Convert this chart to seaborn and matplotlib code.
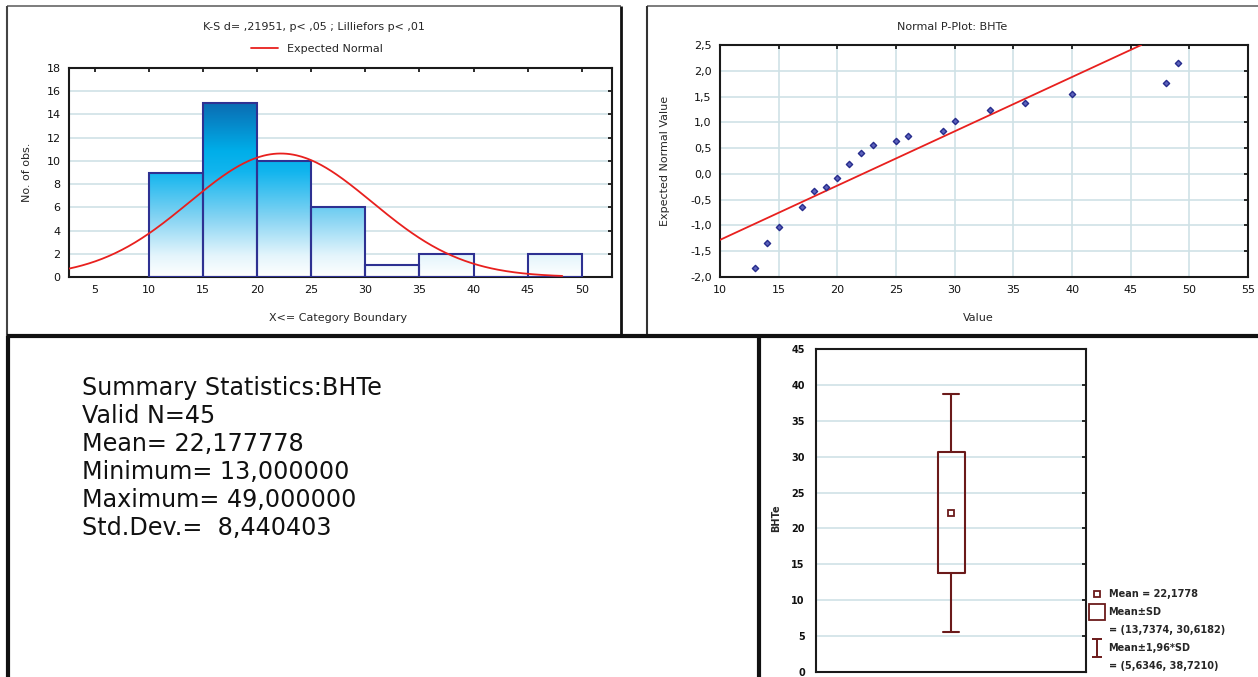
import numpy as np
import matplotlib
matplotlib.use("Agg")
import matplotlib.pyplot as plt
import seaborn as sns
from matplotlib.colors import LinearSegmentedColormap
from matplotlib.lines import Line2D
from matplotlib.path import Path
from matplotlib.ticker import FuncFormatter

# ---------------- data ----------------
bin_edges = [10, 15, 20, 25, 30, 35, 40, 45, 50]
bin_counts = [9, 15, 10, 6, 1, 2, 0, 2]
n_valid = 45
mean_val = 22.177778
min_val = 13.0
max_val = 49.0
std_val = 8.440403
hist_title = "K-S d= ,21951, p< ,05 ; Lilliefors p< ,01"
hist_xticks = [5, 10, 15, 20, 25, 30, 35, 40, 45, 50]
hist_yticks = [0, 2, 4, 6, 8, 10, 12, 14, 16, 18]
curve_range = [2.6, 48.2]

pp_title = "Normal P-Plot: BHTe"
pp_values = [13, 14, 15, 17, 18, 19, 20, 21, 22, 23, 25, 26, 29, 30, 33, 36, 40, 48, 49]
pp_expected = [-1.82, -1.35, -1.03, -0.64, -0.33, -0.26, -0.08, 0.19, 0.40, 0.57,
               0.64, 0.73, 0.84, 1.03, 1.23, 1.38, 1.54, 1.76, 2.15]
pp_line_x = [10, 45.9]
pp_line_y = [-1.28, 2.5]
pp_xticks = [10, 15, 20, 25, 30, 35, 40, 45, 50, 55]
pp_yticks = [-2.0, -1.5, -1.0, -0.5, 0.0, 0.5, 1.0, 1.5, 2.0, 2.5]

box_yticks = [0, 5, 10, 15, 20, 25, 30, 35, 40, 45]
variable = "BHTe"

# ---------------- helpers ----------------
W, H = 1258, 677


def fx(px):
    return px / W


def fy(py):
    return 1 - py / H


def comma(v, nd):
    return f"{v:.{nd}f}".replace(".", ",")


sns.set_theme(style="white")
plt.rcParams["font.family"] = ["DejaVu Sans"]
plt.rcParams["axes.edgecolor"] = "#1a1a1a"
plt.rcParams["axes.linewidth"] = 1.5

fig = plt.figure(figsize=(W / 100, H / 100), dpi=100)
fig.patch.set_facecolor("white")

grid_c = "#cfe2e6"
tick_fs = 8

# ---------------- histogram ----------------
ax1 = fig.add_axes([fx(69), fy(277), fx(612) - fx(69), fy(68) - fy(277)])
mids = [(bin_edges[i] + bin_edges[i + 1]) / 2 for i in range(len(bin_counts))]
sns.histplot(x=mids, weights=bin_counts, bins=bin_edges, ax=ax1, stat="count",
             element="bars", fill=True, edgecolor="#2e3192", linewidth=1.5,
             facecolor="none", alpha=1)
cmap = LinearSegmentedColormap.from_list(
    "grad",
    [(0.0, "#ffffff"), (0.1, "#e4f5fc"), (0.28, "#86d4f3"), (0.5, "#12b5ee"),
     (0.6, "#00aee9"), (0.83, "#0a6cb2"), (1.0, "#0a5a9c")])
grad = np.linspace(0, 18, 256).reshape(-1, 1)
for p in list(ax1.patches):
    p.set_facecolor("none")
    p.set_zorder(3)
    x0 = p.get_x()
    w = p.get_width()
    im = ax1.imshow(grad, extent=(x0, x0 + w, 0, 18), origin="lower", aspect="auto",
                    cmap=cmap, vmin=0, vmax=18, zorder=2)
    im.set_clip_path(p)

cx = np.linspace(curve_range[0], curve_range[1], 300)
bw = bin_edges[1] - bin_edges[0]
cy = n_valid * bw * np.exp(-0.5 * ((cx - mean_val) / std_val) ** 2) / (std_val * np.sqrt(2 * np.pi))
ax1.plot(cx, cy, color="#e8201e", lw=1.3, zorder=4)

ax1.set_xlim(2.6, 52.8)
ax1.set_ylim(0, 18)
ax1.set_xticks(hist_xticks)
ax1.set_yticks(hist_yticks)
ax1.yaxis.grid(True, color=grid_c, lw=1.2)
ax1.xaxis.grid(False)
ax1.set_axisbelow(True)
ax1.tick_params(direction="in", top=True, right=True, length=3, labelsize=tick_fs,
                pad=6, colors="#111111")
ax1.set_ylabel("No. of obs.", fontsize=tick_fs)
ax1.set_xlabel("X<= Category Boundary", fontsize=tick_fs)
ax1.yaxis.set_label_coords(-0.068, 0.5)
ax1.xaxis.set_label_coords(0.495, -0.172)

fig.text(fx(314), fy(27), hist_title, ha="center", va="center", fontsize=tick_fs)
fig.legend(handles=[Line2D([], [], color="#e8201e", lw=1.3)], labels=["Expected Normal"],
           loc="center", bbox_to_anchor=(fx(317), fy(49)), frameon=False,
           fontsize=tick_fs, handlelength=2.4, borderpad=0)

# ---------------- normal P-plot ----------------
ax2 = fig.add_axes([fx(720), fy(277), fx(1248) - fx(720), fy(45) - fy(277)])
sns.lineplot(x=pp_line_x, y=pp_line_y, ax=ax2, color="#e8201e", lw=1.3, zorder=3)
sns.scatterplot(x=pp_values, y=pp_expected, ax=ax2, marker="D", s=10,
                facecolor="#5c62bc", edgecolor="#262c8c", linewidth=1.0, zorder=4)
ax2.set_xlim(10, 55)
ax2.set_ylim(-2.0, 2.5)
ax2.set_xticks(pp_xticks)
ax2.set_yticks(pp_yticks)
ax2.yaxis.set_major_formatter(FuncFormatter(lambda v, _: comma(v, 1)))
ax2.grid(True, color=grid_c, lw=1.2)
ax2.set_axisbelow(True)
ax2.tick_params(direction="in", top=True, right=True, length=3, labelsize=tick_fs,
                pad=6, colors="#111111")
ax2.set_ylabel("Expected Normal Value", fontsize=tick_fs)
ax2.set_xlabel("Value", fontsize=tick_fs)
ax2.yaxis.set_label_coords(-0.095, 0.5)
ax2.xaxis.set_label_coords(0.489, -0.155)
fig.text(fx(952), fy(27), pp_title, ha="center", va="center", fontsize=tick_fs)

# ---------------- box plot ----------------
bc = "#6b1a1a"
ax3 = fig.add_axes([fx(816), fy(672), fx(1086) - fx(816), fy(349) - fy(672)])
stats = [dict(med=mean_val, q1=mean_val - std_val, q3=mean_val + std_val,
              whislo=mean_val - 1.96 * std_val, whishi=mean_val + 1.96 * std_val,
              mean=mean_val, fliers=[])]
ax3.bxp(stats, positions=[0], widths=0.1, capwidths=0.058, showmeans=True,
        showfliers=False,
        boxprops=dict(color=bc, lw=1.5), whiskerprops=dict(color=bc, lw=1.5),
        capprops=dict(color=bc, lw=1.5), medianprops=dict(lw=0, color="none"),
        meanprops=dict(marker="s", ms=4, mfc="white", mec=bc, mew=1.3))
ax3.set_xlim(-0.5, 0.5)
ax3.set_ylim(0, 45)
ax3.set_yticks(box_yticks)
ax3.set_xticks([])
ax3.yaxis.grid(True, color=grid_c, lw=1.2)
ax3.set_axisbelow(True)
ax3.tick_params(axis="y", direction="in", right=True, length=3, labelsize=7, pad=8,
                colors="#111111")
for t in ax3.get_yticklabels():
    t.set_fontweight("bold")
ax3.set_ylabel(variable, fontsize=7, fontweight="bold")
ax3.yaxis.set_label_coords(-0.13, 0.477)

ibar = Path([(-0.5, 1), (0.5, 1), (0, 1), (0, -1), (-0.5, -1), (0.5, -1)],
            [Path.MOVETO, Path.LINETO, Path.MOVETO, Path.LINETO, Path.MOVETO, Path.LINETO])
handles = [
    Line2D([], [], ls="none", marker="s", ms=4, mfc="white", mec=bc, mew=1.3),
    Line2D([], [], ls="none", marker="s", ms=11, mfc="white", mec=bc, mew=1.3),
    Line2D([], [], ls="none"),
    Line2D([], [], ls="none", marker=ibar, ms=13, mec=bc, mew=1.4),
    Line2D([], [], ls="none"),
]
labels = [
    f"Mean = {comma(mean_val, 4)}",
    "Mean±SD",
    f"= ({comma(mean_val - std_val, 4)}, {comma(mean_val + std_val, 4)})",
    "Mean±1,96*SD",
    f"= ({comma(mean_val - 1.96 * std_val, 4)}, {comma(mean_val + 1.96 * std_val, 4)})",
]
leg = fig.legend(handles=handles, labels=labels, loc="upper left",
                 bbox_to_anchor=(fx(1092), fy(589)), frameon=False,
                 prop=dict(size=7, weight="bold"), handlelength=1.1,
                 handletextpad=0.6, labelspacing=0.82, borderpad=0, borderaxespad=0)

# ---------------- summary text ----------------
summary_lines = [
    f"Summary Statistics:{variable}",
    f"Valid N={n_valid}",
    f"Mean= {comma(mean_val, 6)}",
    f"Minimum= {comma(min_val, 6)}",
    f"Maximum= {comma(max_val, 6)}",
    f"Std.Dev.=  {comma(std_val, 6)}",
]
for i, line in enumerate(summary_lines):
    fig.text(fx(82), fy(395 + 28 * i), line, ha="left", va="baseline",
             fontsize=17.2, color="#111111", family="DejaVu Sans")

# ---------------- panel borders ----------------
def fline(x0, y0, x1, y1, lw=1.5, color="#111111"):
    fig.add_artist(Line2D([fx(x0), fx(x1)], [fy(y0), fy(y1)], transform=fig.transFigure,
                          color=color, lw=lw, solid_capstyle="butt"))


# top-left panel
fline(7, 6, 621, 6, lw=1.2, color="#666666")
fline(7, 6, 7, 336, lw=1.5, color="#444444")
fline(621, 6, 621, 336, lw=2.0)
# top-right panel
fline(647, 6, 1258, 6, lw=1.2, color="#666666")
fline(647, 6, 647, 336, lw=1.5, color="#333333")
# horizontal separator
fline(7, 336, 1258, 336, lw=3.0)
# bottom verticals
fline(8, 336, 8, 677, lw=3.0)
fline(759, 336, 759, 677, lw=3.0)

fig.savefig("out.png", dpi=100, facecolor="white")
